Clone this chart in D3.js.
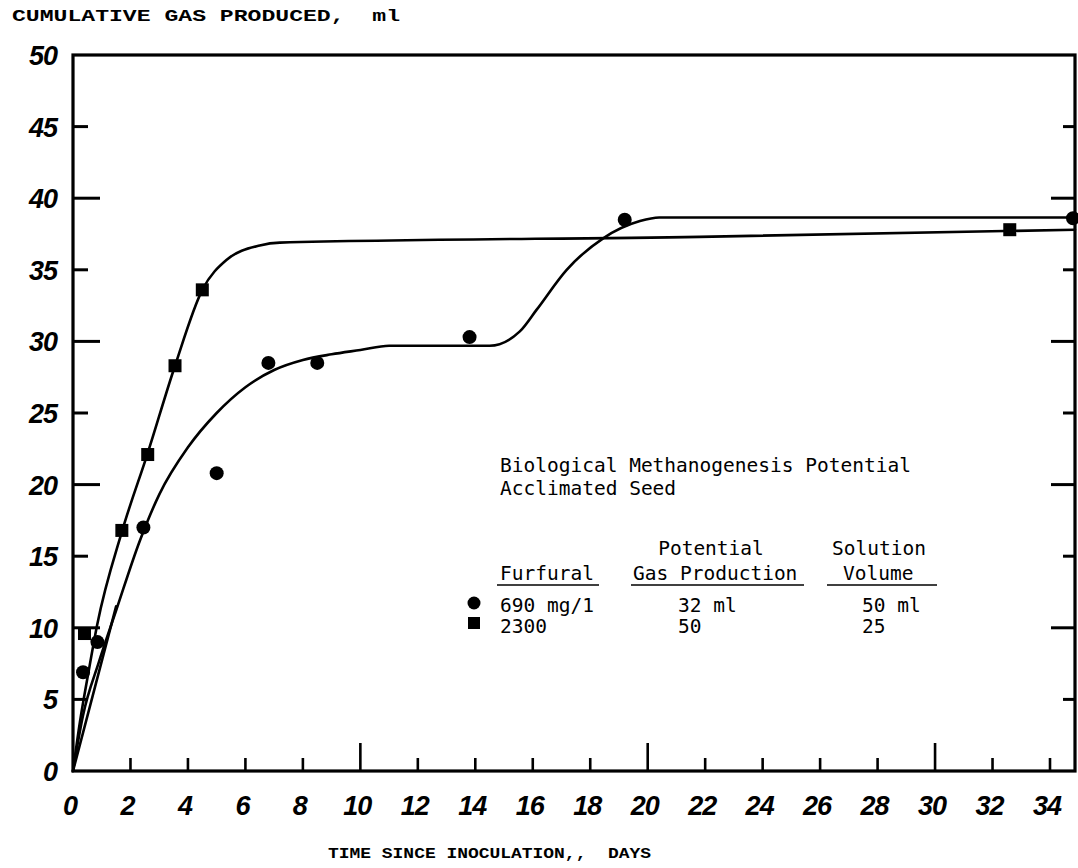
<!DOCTYPE html>
<html>
<head>
<meta charset="utf-8">
<script src="https://cdn.jsdelivr.net/npm/d3@7"></script>
<style>
  html, body { margin: 0; padding: 0; background: #fff; }
  svg { display: block; }
  text.keep-spaces { white-space: pre; }
</style>
</head>
<body>
<svg id="chart" width="1078" height="868"></svg>
<script>
// Furfural 690 mg/l (circles): [day, cumulative gas ml]
const circleDays   = [0.35, 0.85, 2.45, 5.0, 6.8, 8.5, 13.8, 19.2, 34.8];
const circleGas    = [6.9, 9.0, 17.0, 20.8, 28.5, 28.5, 30.3, 38.5, 38.6];
// Furfural 2300 mg/l (squares)
const squareDays   = [0.4, 1.7, 2.6, 3.55, 4.5, 32.6];
const squareGas    = [9.6, 16.8, 22.1, 28.3, 33.6, 37.8];

// Hand-fitted curves through each series
const circleCurveDays = [0, 0.35, 0.9, 1.5, 2.33, 3.0, 4.0, 5.0, 6.0, 7.0, 8.0, 9.0, 10.0, 11.0, 14.5, 15.55, 16.13, 17.18, 18.45, 19.73, 20.4, 34.87];
const circleCurveGas  = [0, 3.9, 7.6, 11.2, 16.1, 19.3, 22.6, 25.0, 26.8, 28.0, 28.7, 29.1, 29.4, 29.7, 29.7, 30.7, 32.2, 35.0, 37.2, 38.4, 38.65, 38.65];
const squareCurveDays = [0, 0.24, 0.53, 0.84, 1.7, 2.6, 3.55, 4.5, 5.35, 6.5, 7.2, 21.8, 34.87];
const squareCurveGas  = [0, 3.4, 6.8, 10.2, 16.7, 22.2, 28.3, 33.6, 35.7, 36.7, 36.9, 37.3, 37.8];
// Short pencil stroke near the origin
const stubDays = [0, 1.5];
const stubGas  = [0, 11.5];

const xTicks = [0, 2, 4, 6, 8, 10, 12, 14, 16, 18, 20, 22, 24, 26, 28, 30, 32, 34];
const yTicks = [0, 5, 10, 15, 20, 25, 30, 35, 40, 45, 50];

const titleText = "CUMULATIVE GAS PRODUCED,  ml";
const xTitleText = "TIME SINCE INOCULATION,,  DAYS";

const legendLines = ["Biological Methanogenesis Potential", "Acclimated Seed"];
const legendHeads = ["Furfural", "Gas Production", "Volume"];
const legendHeadsTop = ["Potential", "Solution"];
const legendRows = [
  ["690 mg/1", "32 ml", "50 ml"],
  ["2300", "50", "25"]
];

const svg = d3.select("#chart");
const x = d3.scaleLinear().domain([0, 34.87]).range([73, 1075]);
const y = d3.scaleLinear().domain([0, 50]).range([771, 55]);

const ink = "#000";
const handFont = "'Liberation Sans', Arial, sans-serif";
const typeFont = "'DejaVu Sans Mono', monospace";
const capsFont = "'Liberation Mono', 'Courier New', monospace";

// Frame
svg.append("rect")
  .attr("x", x(0)).attr("y", y(50))
  .attr("width", x(34.87) - x(0)).attr("height", y(0) - y(50))
  .attr("fill", "none").attr("stroke", ink).attr("stroke-width", 3.2);

// X ticks (upward, long at every 10 days)
const xt = svg.append("g");
xTicks.filter(d => d > 0).forEach(d => {
  const len = d % 10 === 0 ? 28 : 13;
  xt.append("line")
    .attr("x1", x(d)).attr("x2", x(d))
    .attr("y1", y(0)).attr("y2", y(0) - len)
    .attr("stroke", ink).attr("stroke-width", 2.6);
});
// Y ticks on both sides, pointing inward
const yt = svg.append("g");
yTicks.filter(d => d > 0 && d < 50).forEach(d => {
  const len = d % 10 === 0 ? 27 : 15;
  const lenR = d % 10 === 0 ? 24 : 12;
  yt.append("line")
    .attr("x1", x(0)).attr("x2", x(0) + len)
    .attr("y1", y(d)).attr("y2", y(d))
    .attr("stroke", ink).attr("stroke-width", 3);
  yt.append("line")
    .attr("x1", x(34.87)).attr("x2", x(34.87) - lenR)
    .attr("y1", y(d)).attr("y2", y(d))
    .attr("stroke", ink).attr("stroke-width", 3);
});

// Tick labels
svg.append("g").selectAll("text").data(xTicks).join("text")
  .attr("x", d => x(d) - 3).attr("y", 815)
  .attr("text-anchor", "middle")
  .attr("font-family", handFont).attr("font-style", "italic").attr("font-weight", "bold")
  .attr("font-size", 27).attr("letter-spacing", -1)
  .text(d => d);
svg.append("g").selectAll("text").data(yTicks).join("text")
  .attr("x", 57).attr("y", d => y(d) + 10)
  .attr("text-anchor", "end")
  .attr("font-family", handFont).attr("font-style", "italic").attr("font-weight", "bold")
  .attr("font-size", 27).attr("letter-spacing", -1)
  .text(d => d);

// Titles (wide typewriter capitals)
svg.append("text").attr("class", "keep-spaces")
  .attr("x", 12).attr("y", 21)
  .attr("font-family", capsFont).attr("font-weight", "bold").attr("font-size", 16)
  .attr("textLength", 388).attr("lengthAdjust", "spacingAndGlyphs")
  .text(titleText);
svg.append("text").attr("class", "keep-spaces")
  .attr("x", 328).attr("y", 858)
  .attr("font-family", capsFont).attr("font-weight", "bold").attr("font-size", 15)
  .attr("textLength", 323).attr("lengthAdjust", "spacingAndGlyphs")
  .text(xTitleText);

// Curves
const line = d3.line().x(d => x(d[0])).y(d => y(d[1])).curve(d3.curveMonotoneX);
const zip = (a, b) => a.map((v, i) => [v, b[i]]);
[[squareCurveDays, squareCurveGas], [circleCurveDays, circleCurveGas], [stubDays, stubGas]]
  .forEach(([dx, dy]) => {
    svg.append("path")
      .attr("d", line(zip(dx, dy)))
      .attr("fill", "none").attr("stroke", ink).attr("stroke-width", 2.6)
      .attr("stroke-linecap", "round");
  });

// Data markers
svg.append("g").selectAll("circle").data(zip(circleDays, circleGas)).join("circle")
  .attr("cx", d => x(d[0])).attr("cy", d => y(d[1])).attr("r", 7).attr("fill", ink);
svg.append("g").selectAll("rect").data(zip(squareDays, squareGas)).join("rect")
  .attr("x", d => x(d[0]) - 6.5).attr("y", d => y(d[1]) - 6.5)
  .attr("width", 13).attr("height", 13).attr("fill", ink);

// Legend block
const lg = svg.append("g")
  .attr("font-family", typeFont).attr("font-size", 19.5).attr("fill", ink);
lg.append("text").attr("x", 500).attr("y", 472).text(legendLines[0]);
lg.append("text").attr("x", 500).attr("y", 495).text(legendLines[1]);
lg.append("text").attr("x", 711).attr("y", 555).attr("text-anchor", "middle").text(legendHeadsTop[0]);
lg.append("text").attr("x", 879).attr("y", 555).attr("text-anchor", "middle").text(legendHeadsTop[1]);
const headX = [[500, 597], [633, 802], [843, 917]];
const underline = [[497, 599], [631, 804], [827, 937]];
legendHeads.forEach((h, i) => {
  lg.append("text").attr("x", headX[i][0]).attr("y", 580).text(h);
  lg.append("line")
    .attr("x1", underline[i][0]).attr("x2", underline[i][1])
    .attr("y1", 585).attr("y2", 585)
    .attr("stroke", ink).attr("stroke-width", 1.6);
});
const colX = [500, 678, 862];
const rowY = [612, 633];
legendRows.forEach((row, r) => {
  row.forEach((t, c) => {
    lg.append("text").attr("x", colX[c]).attr("y", rowY[r]).text(t);
  });
});
lg.append("circle").attr("cx", 474).attr("cy", 603).attr("r", 6.5);
lg.append("rect").attr("x", 468).attr("y", 617).attr("width", 12).attr("height", 12);
</script>
</body>
</html>
